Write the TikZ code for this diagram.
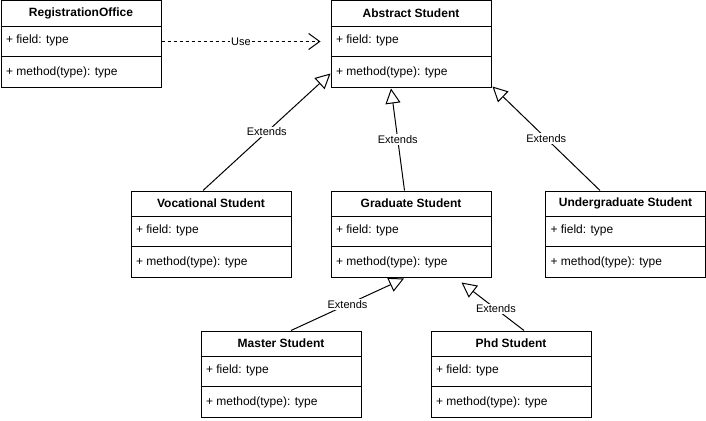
\documentclass[tikz,border=0pt]{standalone}
\usepackage{fontspec}
\setmainfont{Liberation Sans}
\usetikzlibrary{arrows.meta,calc}
\newcommand\umlclass[4]{%
  \node[classbox] (#1) at (#2,#3) {};
  \node[classtitle] (#1-t) at ($(#1.north)+(0,13)$) {#4};
  \draw ($(#1.north west)+(0,26)$) -- ($(#1.north east)+(0,26)$);
  \node[member] (#1-f) at ($(#1.north west)+(5,40)$) {+ field: type};
  \draw ($(#1.north west)+(0,56)$) -- ($(#1.north east)+(0,56)$);
  \node[member] (#1-m) at ($(#1.north west)+(5,72)$) {+ method(type): type};
}
\begin{document}
\begin{tikzpicture}[x=1pt,y=-1pt,line width=1pt,
  classbox/.style={draw,rectangle,minimum width=160pt,minimum height=86pt,inner sep=0pt,anchor=north west,fill=white},
  classtitle/.style={font=\fontsize{12}{14}\selectfont\bfseries,anchor=center,inner sep=0pt},
  member/.style={font=\fontsize{12}{14}\selectfont,anchor=west,inner sep=0pt},
  lbl/.style={font=\fontsize{11}{13}\selectfont,fill=white,inner sep=1pt},
  extends/.style={-{Triangle[open,length=15pt,width=15pt]}},
  uses/.style={dash pattern=on 3pt off 3pt,-{Straight Barb[length=11pt,width=16pt,line width=1pt]}}]
\useasboundingbox (0,0) rectangle (706,420);

\umlclass{reg}{0.5}{0.5}{RegistrationOffice}
\umlclass{abs}{330.5}{0.5}{Abstract Student}
\umlclass{voc}{130.5}{190.5}{Vocational Student}
\umlclass{grad}{330.5}{190.5}{Graduate Student}
\umlclass{und}{545}{190.5}{Undergraduate Student}
\umlclass{mas}{200.5}{330.5}{Master Student}
\umlclass{phd}{430.5}{330.5}{Phd Student}

% Use
\coordinate (usestart) at ($(reg.north east)+(0,41)$);
\coordinate (usetip) at ($(abs.north west)+(-10,41)$);
\draw[uses] (usestart) -- node[lbl] {Use} (usetip);

% Extends to Abstract Student
\coordinate (v1) at ($(voc.north west)+(72.5,0)$);
\coordinate (v2) at ($(abs.north west)+(0,73)$);
\draw[extends] (v1) -- node[lbl] {Extends} (v2);

\coordinate (g1) at ($(grad.north west)+(74,0)$);
\coordinate (g2) at ($(abs.south west)+(60.5,1)$);
\draw[extends] (g1) -- node[lbl] {Extends} (g2);

\coordinate (u1) at ($(und.north west)+(55,0)$);
\coordinate (u2) at ($(abs.south east)+(1,-1)$);
\draw[extends] (u1) -- node[lbl] {Extends} (u2);

% Extends to Graduate Student
\coordinate (m1) at ($(mas.north west)+(90.5,0)$);
\coordinate (m2) at ($(grad.south west)+(73.5,1)$);
\draw[extends] (m1) -- node[lbl] {Extends} (m2);

\coordinate (p1) at ($(phd.north west)+(93.5,0)$);
\coordinate (p2) at ($(grad.south west)+(131,5)$);
\draw[extends] (p1) -- node[lbl,pos=0.45] {Extends} (p2);
\end{tikzpicture}
\end{document}
